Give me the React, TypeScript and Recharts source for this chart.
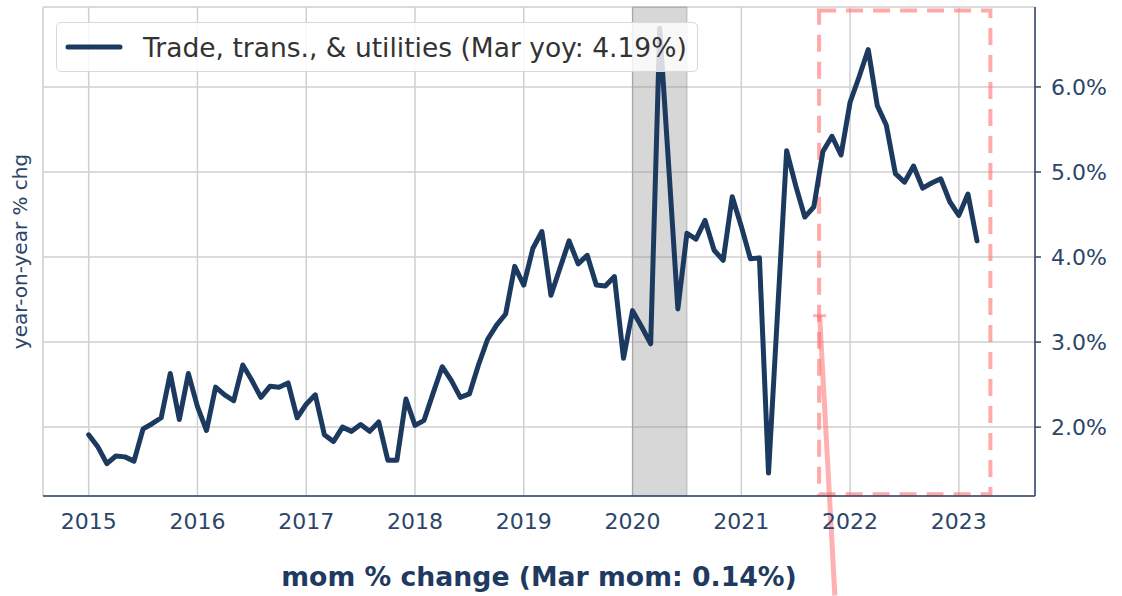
import React from 'react';
import {
    LineChart,
    Line,
    XAxis,
    YAxis,
    CartesianGrid,
    Legend,
    ReferenceArea,
    ReferenceLine,
} from 'recharts';

// year-on-year % change, one row per year (Jan..Dec)
const years = [2015, 2016, 2017, 2018, 2019, 2020, 2021, 2022, 2023];
const yoyByYear = [
    [1.91, 1.77, 1.57, 1.66, 1.65, 1.6, 1.98, 2.04, 2.11, 2.63, 2.09, 2.63],
    [2.24, 1.96, 2.47, 2.38, 2.31, 2.73, 2.55, 2.35, 2.48, 2.47, 2.52, 2.11],
    [2.27, 2.38, 1.91, 1.83, 2.0, 1.95, 2.03, 1.95, 2.06, 1.61, 1.61, 2.33],
    [2.02, 2.08, 2.4, 2.71, 2.55, 2.35, 2.39, 2.73, 3.03, 3.2, 3.33, 3.89],
    [3.67, 4.1, 4.3, 3.55, 3.87, 4.19, 3.92, 4.02, 3.67, 3.66, 3.77, 2.81],
    [3.37, 3.18, 2.98, 6.69, 5.05, 3.39, 4.28, 4.21, 4.43, 4.08, 3.96, 4.71],
    [4.36, 3.98, 3.99, 1.46, 3.35, 5.25, 4.84, 4.47, 4.59, 5.24, 5.42, 5.2],
    [5.82, 6.12, 6.44, 5.78, 5.55, 4.98, 4.88, 5.07, 4.81, 4.87, 4.92, 4.65],
    [4.49, 4.74, 4.19],
];
const yTicks = [2, 3, 4, 5, 6];
const seriesName = 'Trade, trans., & utilities (Mar yoy: 4.19%)';
const xTitle = 'mom % change (Mar mom: 0.14%)';
const yTitle = 'year-on-year % chg';

const data = years.flatMap((yr, i) =>
    yoyByYear[i].map((v, m) => ({ t: yr + m / 12, yoy: v }))
);

const NAVY = '#1c3a60';
const TEXT = '#2c4669';
const FONT = '"DejaVu Sans", sans-serif';

function LegendBox({ payload }: any) {
    const item = payload && payload[0];
    return (
        <div
            style={{
                display: 'flex',
                alignItems: 'center',
                boxSizing: 'border-box',
                height: 50,
                padding: '0 10px 0 8px',
                border: '1px solid #d9d9d9',
                borderRadius: 5,
                background: 'rgba(255,255,255,0.82)',
                fontFamily: FONT,
                fontSize: 26.5,
                color: '#333',
                whiteSpace: 'nowrap',
            }}
        >
            <svg width={58} height={10} style={{ marginRight: 20 }}>
                <line x1={3} y1={5} x2={55} y2={5} stroke={NAVY} strokeWidth={5} strokeLinecap='round' />
            </svg>
            <span>{item ? item.value : seriesName}</span>
        </div>
    );
}

export default function App() {
    return (
        <div style={{ position: 'absolute', left: 0, top: 0 }}>
            <LineChart
                width={1122}
                height={596}
                data={data}
                margin={{ top: 7, right: 0, bottom: 0, left: 0 }}
                style={{ fontFamily: FONT }}
            >
                <CartesianGrid yAxisId='r' stroke='#cfcfcf' strokeWidth={1.5} />
                <XAxis
                    dataKey='t'
                    type='number'
                    domain={[2014.58, 2023.7]}
                    allowDataOverflow
                    ticks={years}
                    height={100}
                    tickLine={false}
                    tickSize={6}
                    tickMargin={11}
                    axisLine={{ stroke: TEXT, strokeWidth: 1.5 }}
                    tick={{ fontSize: 22, fill: TEXT }}
                    label={{
                        value: xTitle,
                        position: 'insideBottom',
                        offset: 10,
                        fontSize: 26.7,
                        fontWeight: 'bold',
                        fill: '#1f3a60',
                    }}
                />
                <YAxis
                    yAxisId='l'
                    orientation='left'
                    width={43}
                    domain={[1.19, 6.94]}
                    allowDataOverflow
                    tick={false}
                    tickLine={false}
                    axisLine={false}
                    label={{ value: yTitle, angle: -90, position: 'center', dx: -2, fontSize: 20, fill: TEXT }}
                />
                <YAxis
                    yAxisId='r'
                    orientation='right'
                    width={87}
                    domain={[1.19, 6.94]}
                    allowDataOverflow
                    ticks={yTicks}
                    tickFormatter={(v: number) => v.toFixed(1) + '%'}
                    tickSize={6}
                    tickMargin={10}
                    tickLine={{ stroke: TEXT, strokeWidth: 1.5 }}
                    axisLine={{ stroke: TEXT, strokeWidth: 1.5 }}
                    tick={{ fontSize: 22, fill: TEXT, textAnchor: 'start' }}
                />
                <ReferenceArea
                    yAxisId='r'
                    x1={2020}
                    x2={2020.5}
                    fill='#8c8c8c'
                    fillOpacity={0.35}
                    stroke='#8c8c8c'
                    strokeOpacity={0.5}
                />
                <ReferenceArea
                    yAxisId='r'
                    x1={2021.715}
                    x2={2023.29}
                    y1={1.21}
                    y2={6.9}
                    fill='none'
                    stroke='#ff6f6f'
                    strokeOpacity={0.6}
                    strokeWidth={4}
                    strokeDasharray='17 10'
                />
                <ReferenceLine
                    yAxisId='r'
                    ifOverflow='visible'
                    segment={[{ x: 2021.66, y: 3.31 }, { x: 2021.78, y: 3.31 }]}
                    stroke='#ff6f6f'
                    strokeOpacity={0.55}
                    strokeWidth={3}
                />
                <ReferenceLine
                    yAxisId='r'
                    ifOverflow='visible'
                    segment={[{ x: 2021.72, y: 3.31 }, { x: 2021.86, y: 0.02 }]}
                    stroke='#ff6f6f'
                    strokeOpacity={0.55}
                    strokeWidth={5}
                />
                <Line
                    yAxisId='r'
                    dataKey='yoy'
                    name={seriesName}
                    type='linear'
                    stroke={NAVY}
                    strokeWidth={5}
                    strokeLinejoin='round'
                    strokeLinecap='round'
                    dot={false}
                    isAnimationActive={false}
                />
                <Legend
                    layout='horizontal'
                    verticalAlign='middle'
                    align='center'
                    content={<LegendBox />}
                    wrapperStyle={{ left: 56, top: 22, width: 'auto', height: 50 }}
                />
            </LineChart>
        </div>
    );
}
